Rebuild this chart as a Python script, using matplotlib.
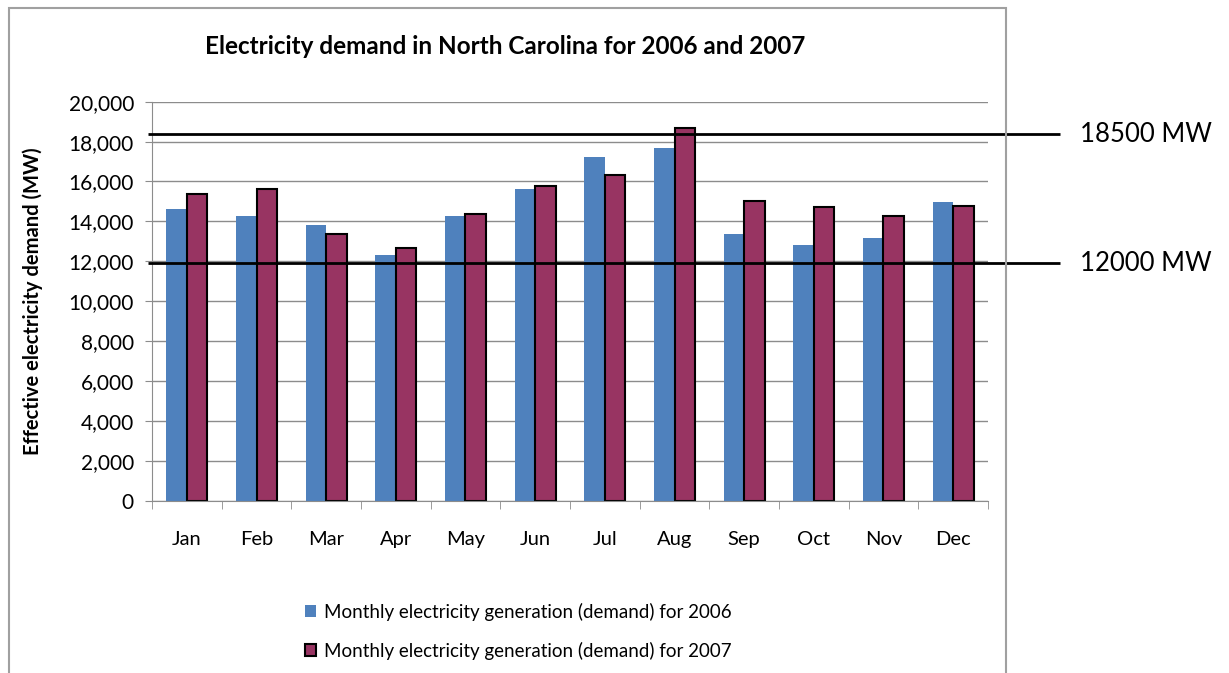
import matplotlib.pyplot as plt
import numpy as np
from matplotlib.patches import Rectangle, Patch

plt.rcParams['font.family'] = ['Lato', 'DejaVu Sans']

months = ['Jan', 'Feb', 'Mar', 'Apr', 'May', 'Jun',
          'Jul', 'Aug', 'Sep', 'Oct', 'Nov', 'Dec']
demand_2006 = [14620, 14270, 13800, 12300, 14270, 15630,
               17230, 17680, 13390, 12830, 13160, 14980]
demand_2007 = [15370, 15630, 13390, 12670, 14370, 15790,
               16340, 18670, 15000, 14720, 14270, 14790]
# reference lines drawn over the chart (where they sit, and what they say)
ref_levels = [18380, 11900]
ref_labels = ['18500 MW', '12000 MW']

blue = '#4F81BD'
maroon = '#983462'

fig = plt.figure(figsize=(12.29, 6.73), dpi=100)
# chart frame
fig.patches.append(Rectangle((9/1229, -0.05), (1006-9)/1229, 1.05 - 8/673,
                             transform=fig.transFigure, fill=False,
                             edgecolor='#a0a0a0', linewidth=1.5))

ax = fig.add_axes([152/1229, 172.3/673, 836/1229, 399/673])
x = np.arange(len(months))
w = 0.295
ax.bar(x - w/2, demand_2006, w, color=blue, zorder=2)
ax.bar(x + w/2, demand_2007, w, color=maroon, edgecolor='black',
       linewidth=1.5, zorder=2)

ax.set_xlim(-0.5, 11.5)
ax.set_ylim(0, 20000)
ax.set_yticks(np.arange(0, 20001, 2000))
ax.set_yticklabels(['{:,}'.format(v) for v in range(0, 20001, 2000)])
ax.yaxis.grid(True, color='#8c8c8c', linewidth=1)
ax.set_axisbelow(True)
ax.set_xticks(x)
ax.set_xticklabels(months)
ax.set_xticks(np.arange(-0.5, 12, 1), minor=True)
ax.tick_params(axis='x', which='major', length=0, pad=22, labelsize=14.5)
ax.tick_params(axis='x', which='minor', length=6, color='#8c8c8c')
ax.tick_params(axis='y', length=5, color='#8c8c8c', pad=8, labelsize=15)
for s in ['top', 'right']:
    ax.spines[s].set_visible(False)
for s in ['left', 'bottom']:
    ax.spines[s].set_color('#8c8c8c')

ax.set_ylabel('Effective electricity demand (MW)', fontsize=14.5,
              fontweight='bold')
ax.yaxis.set_label_coords(-109/836, 0.5)
fig.text(505/1229, 1 - 46/673, 'Electricity demand in North Carolina for 2006 and 2007',
         ha='center', va='center', fontsize=17.5, fontweight='bold')

for lvl, lab in zip(ref_levels, ref_labels):
    ax.hlines(lvl, -0.557, 12.53, color='black', linewidth=2,
              clip_on=False, zorder=5)
    ax.text(12.82, lvl, lab, ha='left', va='center', fontsize=18.5,
            clip_on=False)

handles = [Patch(facecolor=blue, edgecolor='none'),
           Patch(facecolor=maroon, edgecolor='black', linewidth=1.5)]
fig.legend(handles, ['Monthly electricity generation (demand) for 2006',
                     'Monthly electricity generation (demand) for 2007'],
           loc='upper left', bbox_to_anchor=(288/1229, 1 - 586/673),
           frameon=False, fontsize=13.5, handlelength=0.6, handleheight=0.6,
           handletextpad=0.4, labelspacing=1.1)

fig.savefig('out.png', dpi=100)
